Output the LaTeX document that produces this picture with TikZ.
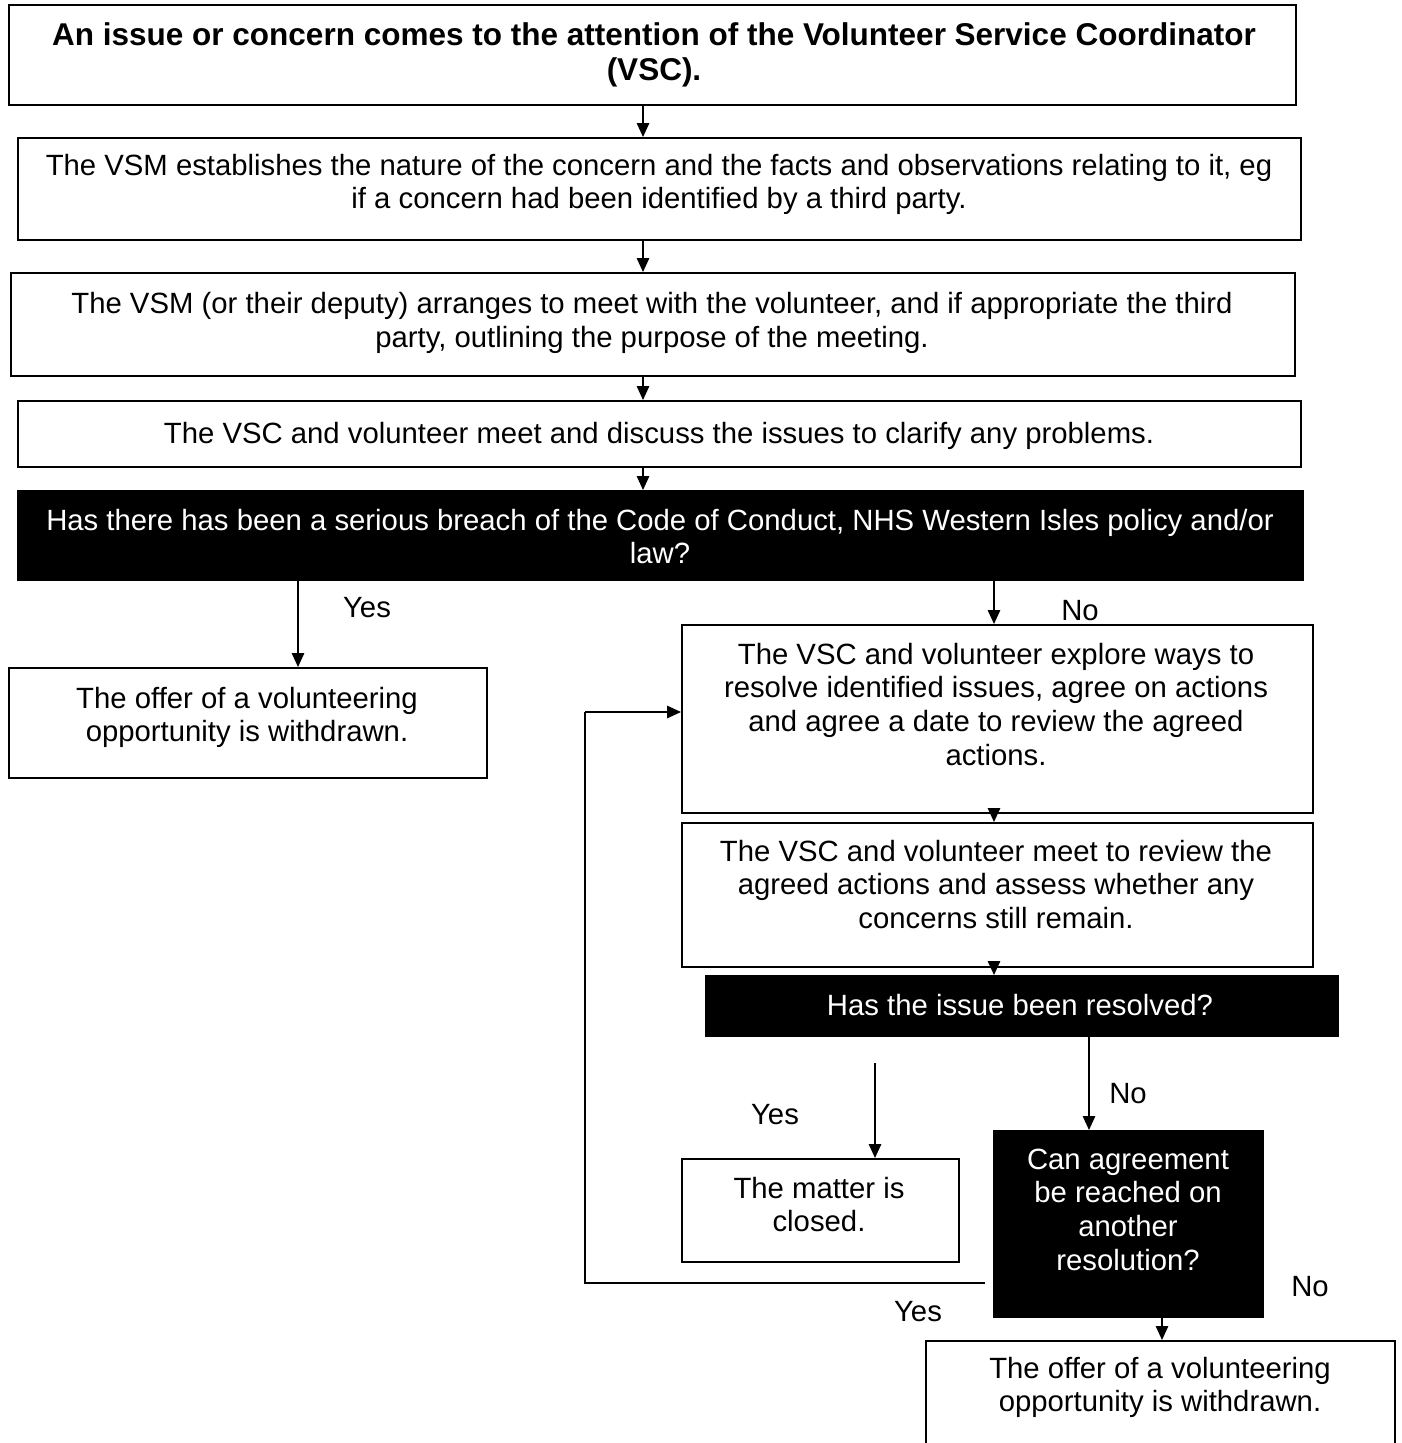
\documentclass[tikz,border=0pt]{standalone}
\usepackage{fontspec}
\setmainfont{Liberation Sans}
\usetikzlibrary{arrows.meta}
\begin{document}
\begin{tikzpicture}[x=1pt,y=-1pt,
  box/.style={draw=black, line width=1.6pt, fill=white, rectangle, inner sep=0pt, anchor=north west},
  dark/.style={draw=black, line width=1pt, fill=black, rectangle, inner sep=0pt, anchor=north west},
  txt/.style={font=\fontsize{29.3}{33.7}\selectfont, align=center, inner sep=0pt, anchor=north},
  wtxt/.style={txt, text=white},
  lbl/.style={font=\fontsize{29.3}{33.7}\selectfont, inner sep=0pt, anchor=base},
  arr/.style={line width=1.4pt, -{Triangle[length=14pt,width=12.5pt]}},
  ln/.style={line width=1.4pt}]
\useasboundingbox (0,0) rectangle (1402,1443);
\clip (0,0) rectangle (1402,1443);
\fill[white] (0,0) rectangle (1402,1443);

% boxes
\node[box, minimum width=1287pt, minimum height=100pt] (b1) at (8,4) {};
\node[box, minimum width=1283pt, minimum height=102pt] (b2) at (17,137) {};
\node[box, minimum width=1284pt, minimum height=103pt] (b3) at (10,272) {};
\node[box, minimum width=1283pt, minimum height=66pt] (b4) at (17,400) {};
\node[dark, minimum width=1286pt, minimum height=90pt] (b5) at (17,490) {};
\node[box, minimum width=478pt, minimum height=110pt] (b6) at (8,667) {};
\node[box, minimum width=631pt, minimum height=188pt] (b7) at (681,624) {};
\node[box, minimum width=631pt, minimum height=144pt] (b8) at (681,822) {};
\node[dark, minimum width=633pt, minimum height=61pt] (b9) at (705,975) {};
\node[box, minimum width=277pt, minimum height=103pt] (b10) at (681,1158) {};
\node[dark, minimum width=270pt, minimum height=187pt] (b11) at (993,1130) {};
\node[box, minimum width=469pt, minimum height=130pt] (b12) at (925,1340) {};

% texts
\node[txt, font=\fontsize{31.5}{35}\selectfont\bfseries] (t1) at (654,20.5) {\strut An issue or concern comes to the attention of the Volunteer Service Coordinator\\(VSC).};
\node[txt] (t2) at (659,151.4) {\strut The VSM establishes the nature of the concern and the facts and observations relating to it, eg\\if a concern had been identified by a third party.};
\node[txt] (t3) at (652,289.9) {\strut The VSM (or their deputy) arranges to meet with the volunteer, and if appropriate the third\\party, outlining the purpose of the meeting.};
\node[txt] (t4) at (659,419.4) {\strut The VSC and volunteer meet and discuss the issues to clarify any problems.};
\node[wtxt] (t5) at (660,506.4) {\strut Has there has been a serious breach of the Code of Conduct, NHS Western Isles policy and/or\\law?};
\node[txt] (t6) at (247,684.4) {\strut The offer of a volunteering\\opportunity is withdrawn.};
\node[txt] (t7) at (996,640.4) {\strut The VSC and volunteer explore ways to\\resolve identified issues, agree on actions\\and agree a date to review the agreed\\actions.};
\node[txt] (t8) at (996,837.4) {\strut The VSC and volunteer meet to review the\\agreed actions and assess whether any\\concerns still remain.};
\node[wtxt] (t9) at (1020,991.4) {\strut Has the issue been resolved?};
\node[txt] (t10) at (819,1174.4) {\strut The matter is\\closed.};
\node[wtxt] (t11) at (1128,1145.4) {\strut Can agreement\\be reached on\\another\\resolution?};
\node[txt] (t12) at (1160,1354.4) {\strut The offer of a volunteering\\opportunity is withdrawn.};

% labels
\node[lbl] (y1) at (367,617) {Yes};
\node[lbl] (n1) at (1080,620) {No};
\node[lbl] (y2) at (775,1124) {Yes};
\node[lbl] (n2) at (1128,1103) {No};
\node[lbl] (y3) at (918,1321) {Yes};
\node[lbl] (n3) at (1310,1296) {No};

% connector guides
\coordinate (cx) at (643,0);
\coordinate (cyes) at (298,0);
\coordinate (cno) at (994,0);
\coordinate (cyes2) at (875,1063);
\coordinate (cno2) at (1089,0);
\coordinate (cno3) at (1162,0);
\coordinate (loopA) at (985,1283);
\coordinate (loopB) at (585,1283);
\coordinate (loopC) at (585,712);

\draw[arr] (b1.south -| cx) -- (b2.north -| cx);
\draw[arr] (b2.south -| cx) -- (b3.north -| cx);
\draw[arr] (b3.south -| cx) -- (b4.north -| cx);
\draw[arr] (b4.south -| cx) -- (b5.north -| cx);
\draw[arr] (b5.south -| cyes) -- (b6.north -| cyes);
\draw[arr] (b5.south -| cno) -- (b7.north -| cno);
\draw[arr] (b7.south -| cno) -- (b8.north -| cno);
\draw[arr] (b8.south -| cno) -- (b9.north -| cno);
\draw[arr] (cyes2) -- (b10.north -| cyes2);
\draw[arr] (b9.south -| cno2) -- (b11.north -| cno2);
\draw[arr] (b11.south -| cno3) -- (b12.north -| cno3);
\draw[ln] (loopA) -- (loopB) -- (loopC);
\draw[arr] (loopC) -- (b7.west |- loopC);
\end{tikzpicture}
\end{document}
